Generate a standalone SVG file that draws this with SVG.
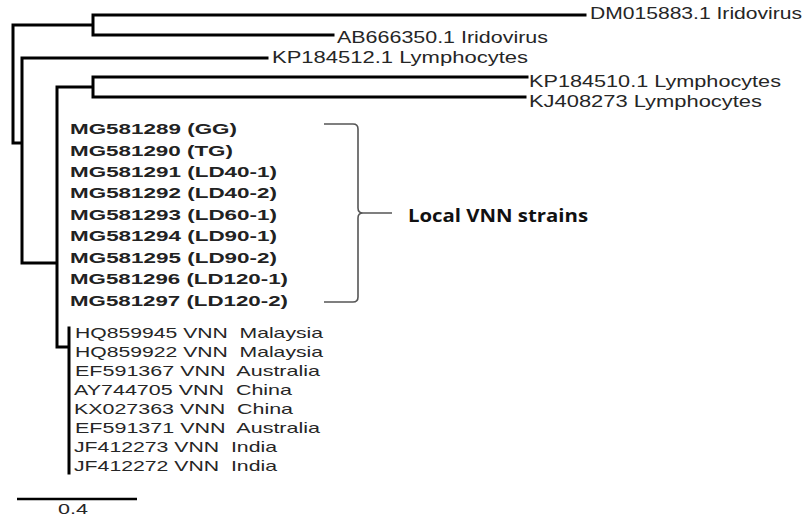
<svg xmlns="http://www.w3.org/2000/svg" width="809" height="517" viewBox="0 0 809 517">
<style>
.br{fill:none;stroke:#000;stroke-width:3;stroke-linecap:square}
.lab{font-family:"Liberation Sans",Arial,sans-serif;font-size:16px;fill:#262626}
.mg{font-family:"Liberation Sans",Arial,sans-serif;font-size:15px;font-weight:bold;fill:#222}
.vn{font-family:"Liberation Sans",Arial,sans-serif;font-size:15px;fill:#262626;white-space:pre}
.brk{fill:none;stroke:#555;stroke-width:1.6}
.note{font-family:"Open Sans","Noto Sans",sans-serif;font-size:18px;font-weight:bold;fill:#111}
.sc{font-family:"Liberation Sans",Arial,sans-serif;font-size:14px;fill:#262626}
</style>
<rect width="809" height="517" fill="#fff"/>
<g id="connectors">
<path class="br" d="M13,25V143M13,25H93M93,15V35M93,15H585M93,35H333M13,143H22M22,58V263M22,58H267M22,263H57M57,87V347M57,87H93M93,77V97M93,77H527M93,97H525M57,347H68M69,328V473"/>
</g>
<g id="n-DM015883"><text class="lab" x="590" y="19" textLength="212" lengthAdjust="spacingAndGlyphs">DM015883.1 Iridovirus</text></g>
<g id="n-AB666350"><text class="lab" x="337" y="43" textLength="211" lengthAdjust="spacingAndGlyphs">AB666350.1 Iridovirus</text></g>
<g id="n-KP184512"><text class="lab" x="272" y="63" textLength="256" lengthAdjust="spacingAndGlyphs">KP184512.1 Lymphocytes</text></g>
<g id="n-KP184510"><text class="lab" x="529" y="87" textLength="252" lengthAdjust="spacingAndGlyphs">KP184510.1 Lymphocytes</text></g>
<g id="n-KJ408273"><text class="lab" x="529" y="107" textLength="233" lengthAdjust="spacingAndGlyphs">KJ408273 Lymphocytes</text></g>
<g id="n-local">
<text class="mg" x="70" y="134" textLength="167" lengthAdjust="spacingAndGlyphs">MG581289 (GG)</text>
<text class="mg" x="70" y="155.5" textLength="163" lengthAdjust="spacingAndGlyphs">MG581290 (TG)</text>
<text class="mg" x="70" y="177" textLength="207" lengthAdjust="spacingAndGlyphs">MG581291 (LD40-1)</text>
<text class="mg" x="70" y="198" textLength="207" lengthAdjust="spacingAndGlyphs">MG581292 (LD40-2)</text>
<text class="mg" x="70" y="219.5" textLength="207" lengthAdjust="spacingAndGlyphs">MG581293 (LD60-1)</text>
<text class="mg" x="70" y="241" textLength="207" lengthAdjust="spacingAndGlyphs">MG581294 (LD90-1)</text>
<text class="mg" x="70" y="262.5" textLength="207" lengthAdjust="spacingAndGlyphs">MG581295 (LD90-2)</text>
<text class="mg" x="70" y="284" textLength="218" lengthAdjust="spacingAndGlyphs">MG581296 (LD120-1)</text>
<text class="mg" x="70" y="305.5" textLength="218" lengthAdjust="spacingAndGlyphs">MG581297 (LD120-2)</text>
</g>
<g id="bracket">
<path class="brk" d="M324,124H353Q358,124 358,129V208Q358,213 363,213Q358,213 358,218V297Q358,302 353,302H324M363,213H392"/>
<text class="note" x="408" y="222" textLength="180" lengthAdjust="spacingAndGlyphs">Local VNN strains</text>
</g>
<g id="n-vnn">
<text class="vn" x="75" y="338" textLength="248" lengthAdjust="spacingAndGlyphs">HQ859945 VNN  Malaysia</text>
<text class="vn" x="75" y="357" textLength="248" lengthAdjust="spacingAndGlyphs">HQ859922 VNN  Malaysia</text>
<text class="vn" x="75" y="376" textLength="245" lengthAdjust="spacingAndGlyphs">EF591367 VNN  Australia</text>
<text class="vn" x="74" y="395" textLength="218" lengthAdjust="spacingAndGlyphs">AY744705 VNN  China</text>
<text class="vn" x="74" y="414" textLength="219" lengthAdjust="spacingAndGlyphs">KX027363 VNN  China</text>
<text class="vn" x="75" y="433" textLength="245" lengthAdjust="spacingAndGlyphs">EF591371 VNN  Australia</text>
<text class="vn" x="74" y="452" textLength="203" lengthAdjust="spacingAndGlyphs">JF412273 VNN  India</text>
<text class="vn" x="74" y="471" textLength="203" lengthAdjust="spacingAndGlyphs">JF412272 VNN  India</text>
</g>
<g id="scale">
<path d="M17,499H137" stroke="#000" stroke-width="2.5"/>
<text class="sc" x="58" y="514" textLength="30" lengthAdjust="spacingAndGlyphs">0.4</text>
</g>
</svg>
